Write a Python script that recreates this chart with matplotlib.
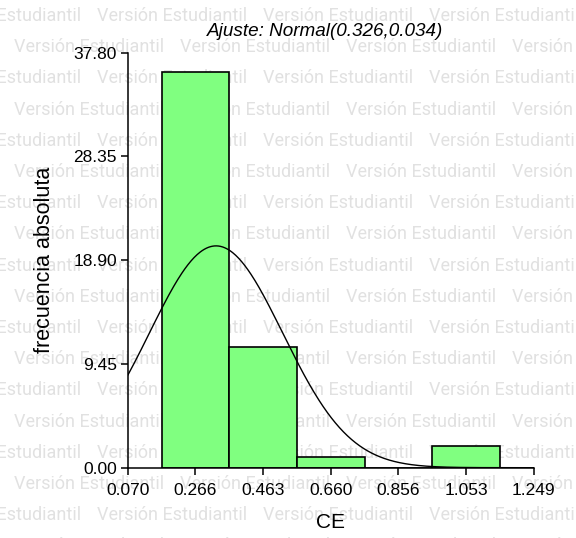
import numpy as np
import matplotlib
matplotlib.use('Agg')
import matplotlib.pyplot as plt

# Histogram data
bin_centers = [0.266, 0.463, 0.660, 0.856, 1.053]
counts = [36, 11, 1, 0, 2]
bin_width = 0.1965

x_ticks = [0.070, 0.266, 0.463, 0.660, 0.856, 1.053, 1.249]
y_ticks = [0.00, 9.45, 18.90, 28.35, 37.80]

# Fitted normal curve (mean and spread)
fit_mean = 0.326
fit_sd = 0.194

title = 'Ajuste: Normal(0.326,0.034)'
watermark = 'Versión Estudiantil'

W, H = 576, 538
fig = plt.figure(figsize=(W / 100, H / 100), dpi=100)
fig.patch.set_facecolor('white')

# size the watermark font so one copy is about 150 px wide
wm_font = ['Roboto', 'DejaVu Sans']
renderer = fig.canvas.get_renderer()
probe = fig.text(0, 0, watermark, family=wm_font, fontsize=14)
probe_w = probe.get_window_extent(renderer).width
probe.remove()
wm_size = 14 * 150 / probe_w

# Watermark rows behind everything
for k in range(18):
    y = 14 + 31.2 * k + 7
    x0 = -69 if k % 2 == 0 else 14
    for n in range(-1, 5):
        x = x0 + n * 166
        fig.text(x / W, 1 - y / H, watermark, color='#e1e1e1',
                 family=wm_font, fontsize=wm_size,
                 ha='left', va='baseline', zorder=-5)

ax = fig.add_axes([128 / W, 1 - 467.7 / H, 405.5 / W, 415 / H])
ax.patch.set_facecolor('none')

ax.bar(bin_centers, counts, width=bin_width, color='#80ff80',
       edgecolor='black', linewidth=1.2, zorder=2)

# Normal curve scaled to counts
n = sum(counts)
xs = np.linspace(x_ticks[0], x_ticks[-1], 400)
ys = n * bin_width / (fit_sd * np.sqrt(2 * np.pi)) * np.exp(-0.5 * ((xs - fit_mean) / fit_sd) ** 2)
ax.plot(xs, ys, color='black', linewidth=1.0, zorder=3)

ax.set_xlim(x_ticks[0], x_ticks[-1])
ax.set_ylim(y_ticks[0], y_ticks[-1])
ax.set_xticks(x_ticks)
ax.set_xticklabels([f'{v:.3f}' for v in x_ticks])
ax.set_yticks(y_ticks)
ax.set_yticklabels([f'{v:.2f}' for v in y_ticks])

for side in ['top', 'right']:
    ax.spines[side].set_visible(False)
for side in ['left', 'bottom']:
    ax.spines[side].set_linewidth(1.1)

ax.tick_params(axis='both', direction='out', length=5, width=1.1,
               labelsize=12.5, labelfontfamily='Liberation Sans')
ax.tick_params(axis='y', pad=3)
ax.tick_params(axis='x', pad=6)

ax.set_xlabel('CE', fontsize=15, family='Liberation Sans')
ax.set_ylabel('frecuencia absoluta', fontsize=15.5, family='Liberation Sans')
ax.xaxis.set_label_coords(0.5, (467.7 - 523) / 415)
ax.xaxis.label.set_va('center')
ax.yaxis.set_label_coords((45 - 128) / 405.5, 0.5)
ax.yaxis.label.set_va('center')

fig.text(325 / W, 1 - 32 / H, title, fontsize=13.6, style='italic',
         family='Liberation Sans', ha='center', va='center')

fig.savefig('out.png', dpi=100)
